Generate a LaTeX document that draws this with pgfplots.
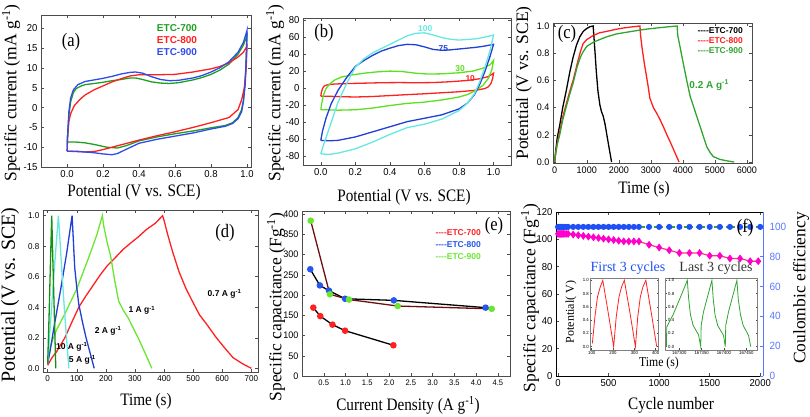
\documentclass[border=0pt]{standalone}
\usepackage{pgfplots}
\pgfplotsset{compat=1.18}
\usepackage{fontspec}
\setmainfont{Liberation Serif}
\setsansfont{Liberation Sans}
\newfontfamily\labfont[FakeStretch=0.87]{Liberation Serif}
\newfontfamily\tickfont[FakeStretch=0.95]{Liberation Sans}
\definecolor{aG}{HTML}{1F9E1F}
\definecolor{aR}{HTML}{FF1F1F}
\definecolor{aB}{HTML}{2E4BEB}
\definecolor{bC}{HTML}{66E8E0}
\definecolor{bB}{HTML}{1F3FD6}
\definecolor{bG}{HTML}{5CE01F}
\definecolor{dG}{HTML}{159015}
\definecolor{eR}{HTML}{FF2020}
\definecolor{eB}{HTML}{2456F0}
\definecolor{eG}{HTML}{6AE632}
\definecolor{eM}{HTML}{6B1010}
\definecolor{fB}{HTML}{1F4FF5}
\definecolor{fG}{HTML}{2FA52F}
\definecolor{fP}{HTML}{FF00CC}
\definecolor{fL}{HTML}{FF3377}
\definecolor{fA}{HTML}{5A78FF}
\pgfplotsset{
  every axis/.append style={scale only axis, anchor=south west,
    axis line style={line width=0.6pt, black!70},
    tick style={black!70, line width=0.5pt},
    major tick length=3pt, scaled ticks=false,
    /pgf/number format/assume math mode=true,
    /pgf/number format/set thousands separator={},
  },
  dec1/.style={/pgf/number format/fixed, /pgf/number format/fixed zerofill, /pgf/number format/precision=1},
}
\newcommand{\XLf}{\labfont\fontsize{17.5}{20}\selectfont}
\newcommand{\YLf}{\rmfamily\fontsize{17.5}{20}\selectfont}
\newcommand{\PLf}{\labfont\fontsize{19}{20}\selectfont}
\newcommand{\LGf}{\sffamily\bfseries\fontsize{8.5}{9}\selectfont}
\begin{document}
\begin{tikzpicture}
\useasboundingbox (0,0) rectangle (810pt,417pt);
% ---------------- (a)
\begin{axis}[at={(41pt,250pt)}, width=210pt, height=152pt,
  xmin=-0.145, xmax=1.022, ymin=-15, ymax=23.4,
  xtick={0,0.2,0.4,0.6,0.8,1.0}, ytick={-15,-10,-5,0,5,10,15,20},
  xticklabel style={dec1}, tick label style={font=\tickfont\fontsize{10}{11}\selectfont}]
\addplot[aG, line width=1.3pt] coordinates {(0.0,-8.7) (0.005,-6) (0.01,-2) (0.02,1.5) (0.035,3.8) (0.05,4.8) (0.08,5.5) (0.1,5.8) (0.15,6.1) (0.2,6.4) (0.25,6.8) (0.3,7.1) (0.35,7.5) (0.38,7.5) (0.42,7.1) (0.47,6.5) (0.52,6.2) (0.57,6.1) (0.62,6.3) (0.7,7.0) (0.75,7.6) (0.8,8.4) (0.85,9.5) (0.9,11) (0.95,13.5) (0.98,15.8) (1.0,18.2) (0.995,12) (0.99,7) (0.98,2) (0.97,-0.5) (0.95,-2.5) (0.92,-3.8) (0.88,-4.5) (0.8,-5.1) (0.7,-5.9) (0.6,-6.6) (0.5,-7.4) (0.4,-8.4) (0.33,-9.6) (0.28,-10.2) (0.22,-10) (0.15,-9.3) (0.1,-8.9) (0.05,-8.7) (0.0,-8.7)};
\addplot[aR, line width=1.3pt] coordinates {(0.0,-11) (0.003,-7) (0.01,-3.5) (0.02,-1.5) (0.04,0.5) (0.07,2) (0.1,3.2) (0.15,4.5) (0.2,5.5) (0.25,6.5) (0.3,7.3) (0.35,8) (0.4,8.3) (0.5,8.3) (0.6,8.4) (0.7,9) (0.8,9.8) (0.85,10.4) (0.9,11.3) (0.95,12.8) (0.98,14) (1.0,15.5) (0.995,10) (0.985,5) (0.97,2) (0.95,-0.5) (0.9,-2.5) (0.8,-3.8) (0.7,-5) (0.6,-6.1) (0.5,-7.1) (0.4,-8.2) (0.3,-9.4) (0.2,-10.6) (0.15,-11.1) (0.1,-11.2) (0.05,-11) (0.0,-11)};
\addplot[aB, line width=1.3pt] coordinates {(0.0,-11) (0.004,-6) (0.01,-1) (0.02,2.5) (0.035,4.5) (0.06,5.8) (0.1,6.6) (0.15,7) (0.2,7.4) (0.25,7.9) (0.3,8.5) (0.35,8.9) (0.38,9) (0.42,8.7) (0.47,7.8) (0.52,7.1) (0.57,6.8) (0.62,6.9) (0.7,7.5) (0.75,8.1) (0.8,9) (0.85,10.1) (0.9,11.6) (0.95,14) (0.98,16.5) (1.0,19.5) (0.995,12) (0.99,6) (0.98,1.5) (0.97,-1) (0.95,-2.8) (0.92,-4) (0.88,-4.7) (0.8,-5.4) (0.7,-6.4) (0.6,-7.2) (0.5,-8) (0.4,-9) (0.33,-10.5) (0.28,-11.6) (0.25,-11.9) (0.2,-11.7) (0.15,-11.4) (0.1,-11.2) (0.05,-11.1) (0.0,-11)};
\end{axis}
% ---------------- (b)
\begin{axis}[at={(303pt,252pt)}, width=208pt, height=147pt,
  xmin=-0.103, xmax=1.101, ymin=-90, ymax=83,
  xtick={0,0.2,0.4,0.6,0.8,1.0}, ytick={-80,-60,...,80},
  xticklabel style={dec1}, tick label style={font=\tickfont\fontsize{10}{11}\selectfont}]
\addplot[eR, line width=1.3pt] coordinates {(0,-9) (0.003,-5) (0.01,0) (0.02,3) (0.04,4.5) (0.08,5.3) (0.15,5.8) (0.25,6.3) (0.35,6.8) (0.45,7) (0.55,6.8) (0.65,7) (0.75,8) (0.85,9.5) (0.92,11.5) (0.97,14) (1.0,18) (0.995,12) (0.985,6) (0.97,2) (0.95,0) (0.9,-2) (0.8,-3.8) (0.7,-5) (0.6,-6.2) (0.5,-7.2) (0.4,-8.3) (0.3,-9.4) (0.2,-10) (0.1,-9.5) (0.03,-9) (0,-9)};
\addplot[bG, line width=1.3pt] coordinates {(0,-25) (0.005,-18) (0.015,-8) (0.03,0) (0.05,5) (0.08,10) (0.12,13.5) (0.18,16) (0.25,18) (0.32,19.5) (0.4,20.5) (0.47,20) (0.55,18) (0.62,17) (0.7,17.3) (0.8,18.5) (0.88,20.5) (0.94,24) (0.98,28) (1.0,33) (0.99,22) (0.97,12) (0.94,4) (0.9,-2) (0.85,-7) (0.8,-10) (0.7,-13.5) (0.6,-16) (0.5,-17.5) (0.4,-20) (0.3,-23) (0.2,-25) (0.1,-25.5) (0.03,-25) (0,-25)};
\addplot[bB, line width=1.3pt] coordinates {(0,-61) (0.01,-50) (0.03,-35) (0.06,-18) (0.1,-2) (0.15,13) (0.2,26) (0.25,33) (0.3,39) (0.35,44) (0.4,47.5) (0.45,50.5) (0.5,52) (0.55,51.5) (0.6,49) (0.65,46) (0.7,45) (0.75,45.5) (0.8,46.5) (0.9,48.5) (0.95,50) (1.0,52) (0.98,38) (0.95,20) (0.92,5) (0.89,-7) (0.85,-17) (0.8,-24) (0.7,-31) (0.6,-35) (0.5,-39) (0.4,-45) (0.3,-51) (0.2,-57) (0.1,-61) (0.05,-61.5) (0,-61)};
\addplot[bC, line width=1.3pt] coordinates {(0,-77) (0.01,-70) (0.03,-58) (0.06,-40) (0.1,-16) (0.15,6) (0.2,25) (0.25,35) (0.3,42) (0.35,47) (0.4,52) (0.45,57) (0.5,62) (0.55,65) (0.6,65.5) (0.65,63) (0.7,60) (0.75,58) (0.8,57) (0.9,58.5) (0.95,60.5) (1.0,63) (0.98,45) (0.95,25) (0.92,8) (0.89,-6) (0.85,-17) (0.8,-26) (0.7,-36) (0.6,-42) (0.5,-46) (0.4,-54) (0.3,-63) (0.2,-71) (0.1,-76) (0.05,-77.5) (0,-77)};
\node[font=\LGf, text=bC] at (axis cs:0.604,70.2) {100};
\node[font=\LGf, text=bB] at (axis cs:0.709,46.7) {75};
\node[font=\LGf, text=bG] at (axis cs:0.807,23.2) {30};
\node[font=\LGf, text=eR] at (axis cs:0.865,11.4) {10};
\end{axis}
% ---------------- (c)
\begin{axis}[at={(553pt,254pt)}, width=199pt, height=140pt,
  xmin=-53, xmax=6157, ymin=-0.007, ymax=1.022,
  xtick={0,1000,...,6000}, ytick={0,0.2,0.4,0.6,0.8,1.0},
  yticklabel style={dec1}, tick label style={font=\tickfont\fontsize{9.5}{11}\selectfont}]
\addplot[black, line width=1.3pt] coordinates {(0,0) (30,0.08) (80,0.18) (156,0.27) (250,0.4) (365,0.53) (470,0.66) (574,0.77) (680,0.86) (782,0.92) (890,0.96) (990,0.98) (1100,0.995) (1200,1.0) (1215,0.95) (1260,0.8) (1300,0.66) (1350,0.52) (1410,0.42) (1460,0.37) (1510,0.34) (1570,0.28) (1620,0.21) (1700,0.1) (1775,0)};
\addplot[aR, line width=1.3pt] coordinates {(0,0) (30,0.07) (80,0.14) (156,0.22) (250,0.33) (365,0.43) (470,0.52) (574,0.6) (700,0.72) (800,0.81) (886,0.87) (1000,0.9) (1200,0.93) (1400,0.95) (1617,0.96) (1900,0.975) (2138,0.985) (2400,0.993) (2660,1.0) (2680,0.93) (2720,0.85) (2800,0.72) (2900,0.58) (2970,0.47) (3080,0.4) (3180,0.36) (3290,0.31) (3390,0.26) (3500,0.2) (3600,0.15) (3750,0.07) (3880,0)};
\addplot[fG, line width=1.3pt] coordinates {(0,0) (30,0.06) (80,0.13) (156,0.2) (250,0.31) (365,0.41) (470,0.5) (574,0.58) (700,0.7) (800,0.77) (886,0.81) (1000,0.85) (1200,0.88) (1400,0.9) (1617,0.92) (1900,0.94) (2138,0.95) (2400,0.96) (2660,0.97) (2900,0.978) (3180,0.985) (3500,0.993) (3820,1.0) (3840,0.93) (3900,0.86) (4000,0.74) (4120,0.6) (4230,0.48) (4330,0.41) (4440,0.33) (4540,0.26) (4650,0.18) (4750,0.11) (4850,0.07) (4950,0.04) (5150,0.02) (5350,0.01) (5600,0)};
\node[font=\sffamily\bfseries\fontsize{10}{11}\selectfont, text=fG] at (axis cs:4821,0.566) {0.2 A g\textsuperscript{-1}};
\end{axis}
% ---------------- (d)
\begin{axis}[at={(43pt,45pt)}, width=215pt, height=162pt,
  xmin=-16, xmax=723, ymin=-0.024, ymax=1.037,
  xtick={0,100,...,700}, ytick={0,0.2,0.4,0.6,0.8,1.0},
  yticklabel style={dec1}, tick label style={font=\tickfont\fontsize{8.5}{10}\selectfont}]
\addplot[eR, line width=1.3pt] coordinates {(0,0.02) (15,0.07) (31,0.11) (59,0.2) (85,0.31) (107,0.40) (130,0.47) (155,0.54) (180,0.61) (204,0.67) (230,0.72) (260,0.78) (285,0.82) (311,0.86) (340,0.91) (370,0.95) (395,1.0) (400,0.97) (412,0.88) (430,0.76) (452,0.63) (476,0.52) (500,0.43) (522,0.35) (550,0.28) (580,0.2) (610,0.13) (637,0.07) (670,0.03) (700,0.0)};
\addplot[eG, line width=1.3pt] coordinates {(0,0.03) (10,0.15) (30,0.25) (60,0.36) (100,0.52) (140,0.72) (170,0.88) (188,1.0) (193,0.93) (205,0.82) (216,0.74) (230,0.58) (244,0.44) (260,0.38) (277,0.33) (295,0.26) (311,0.2) (335,0.1) (358,0.0)};
\addplot[bB, line width=1.3pt] coordinates {(0,0.03) (10,0.13) (20,0.25) (45,0.52) (65,0.75) (84,1.0) (88,0.85) (93,0.66) (100,0.53) (107,0.42) (120,0.3) (132,0.2) (146,0.1) (160,0.0)};
\addplot[bC, line width=1.3pt] coordinates {(0,0.03) (8,0.25) (18,0.52) (28,0.78) (37,1.0) (42,0.85) (50,0.6) (60,0.32) (73,0.0)};
\addplot[dG, line width=1.3pt] coordinates {(0,0.03) (5,0.35) (10,0.72) (14,1.0) (18,0.7) (23,0.35) (28,0.0)};
\node[font=\LGf] at (axis cs:608,0.49) {0.7 A g\textsuperscript{-1}};
\node[font=\LGf] at (axis cs:324,0.38) {1 A g\textsuperscript{-1}};
\node[font=\LGf] at (axis cs:208,0.245) {2 A g\textsuperscript{-1}};
\node[font=\LGf] at (axis cs:83,0.14) {10 A g\textsuperscript{-1}};
\node[font=\LGf] at (axis cs:119,0.055) {5 A g\textsuperscript{-1}};
\end{axis}
% ---------------- (e)
\begin{axis}[at={(302pt,41pt)}, width=208pt, height=165pt,
  xmin=0, xmax=4.78, ymin=0, ymax=408,
  xtick={0.5,1.0,...,4.5}, ytick={0,50,...,400},
  xticklabel style={dec1, font=\tickfont\fontsize{8}{9}\selectfont},
  yticklabel style={font=\tickfont\fontsize{9.5}{11}\selectfont}]
\addplot[black, line width=1.3pt, mark=*, mark size=2.6pt, mark options={eB, fill=eB}] coordinates {(0.19,264) (0.41,224) (0.62,211) (0.99,191) (2.11,187) (4.22,169)};
\addplot[black, line width=1.3pt, mark=*, mark size=2.6pt, mark options={eR, fill=eR}] coordinates {(0.26,169) (0.42,148) (0.70,127) (0.99,112) (2.1,76)};
\addplot[eM, line width=1.3pt, mark=*, mark size=2.6pt, mark options={eG, fill=eG}] coordinates {(0.20,384) (0.64,202) (1.08,189) (2.2,173) (4.36,166)};
\end{axis}
% ---------------- (f)
\begin{axis}[at={(556pt,41pt)}, width=207pt, height=164pt,
  xmin=-20, xmax=2027, ymin=0, ymax=120, clip=false,
  axis y line*=left, axis x line*=box,
  xtick={0,500,...,2000}, ytick={0,20,...,120},
  axis line style={line width=0.6pt, black},
  tick label style={font=\tickfont\fontsize{10}{11}\selectfont}]
\addplot[fL, line width=1.2pt, mark=diamond*, mark size=3pt, mark options={fP, fill=fP}] coordinates {(0,104) (10,104) (20,104) (30,104) (40,104) (50,104) (60,104) (80,104) (100,104) (150,103.5) (200,103) (250,102.5) (300,102) (350,101.5) (400,101) (450,100.5) (500,100) (550,99.5) (600,99) (650,98.5) (700,98.5) (750,98.5) (800,98.5) (900,96) (1000,94) (1100,92) (1200,90) (1300,90) (1400,90) (1500,88) (1600,88) (1700,86) (1800,86) (1900,84) (1980,84)};
\end{axis}
\begin{axis}[at={(556pt,41pt)}, width=207pt, height=164pt,
  xmin=-20, xmax=2027, ymin=0, ymax=110, clip=false,
  axis y line*=right, axis x line=none,
  ytick={0,20,...,100},
  y axis line style={fA, line width=0.8pt}, ytick style={fA},
  yticklabel style={fA, xshift=3pt, font=\tickfont\fontsize{10.5}{11}\selectfont}]
\addplot[fG, dashed, line width=1.2pt, mark=*, mark size=2.4pt, mark options={solid, fB, fill=fB}] coordinates {(0,100) (10,100) (20,100) (30,100) (40,100) (50,100) (60,100) (80,100) (100,100) (150,100) (200,100) (250,100) (300,100) (350,100) (400,100) (450,100) (500,100) (550,100) (600,100) (650,100) (700,100) (750,100) (800,100) (900,100) (1000,100) (1100,100) (1200,100) (1300,100) (1400,100) (1500,100) (1600,100) (1700,100) (1800,100) (1900,100) (2000,100)};
\end{axis}
% insets
\begin{axis}[at={(590pt,67pt)}, width=68pt, height=72pt,
  xmin=92, xmax=411, ymin=-0.05, ymax=1.035,
  xtick={100,200,300,400}, ytick={0,0.2,0.4,0.6,0.8,1.0},
  axis background/.style={fill=white}, axis line style={black!50, line width=0.5pt},
  major tick length=1.5pt, yticklabel style={dec1},
  tick label style={font=\tickfont\fontsize{4.5}{5}\selectfont, inner sep=1pt}]
\addplot[eR, line width=0.8pt] coordinates {(103,0.05) (115,0.45) (127,0.75) (140,0.9) (152,1.0) (178,0.5) (203,0.0) (215,0.45) (228,0.75) (240,0.9) (253,1.0) (280,0.5) (305,0.0) (316,0.45) (328,0.75) (340,0.9) (354,1.0) (380,0.5) (405,0.0)};
\end{axis}
\begin{axis}[at={(665pt,67pt)}, width=92pt, height=72pt,
  xmin=167268, xmax=167474, ymin=-0.05, ymax=1.035,
  xtick={167300,167350,167400,167450}, xticklabels={167300,167350,167400,167450},
  ytick={0,0.2,0.4,0.6,0.8,1.0},
  axis background/.style={fill=white}, axis line style={black!50, line width=0.5pt},
  major tick length=1.5pt, yticklabel style={dec1, anchor=west, xshift=2pt},
  tick label style={font=\tickfont\fontsize{4.5}{5}\selectfont, inner sep=1pt}]
\addplot[fG, line width=0.8pt] coordinates {(167271,0.0) (167272,0.3) (167286,0.48) (167301,0.72) (167318,1.0) (167321,0.72) (167325,0.48) (167331,0.32) (167343,0.18) (167348,0.0) (167349,0.32) (167354,0.52) (167373,1.0) (167376,0.72) (167380,0.48) (167386,0.32) (167399,0.17) (167403,0.0) (167404,0.32) (167410,0.52) (167429,1.0) (167432,0.72) (167437,0.48) (167443,0.32) (167455,0.17) (167460,0.0)};
\end{axis}
% ---------- text labels
\node[font=\XLf] at (134pt,225pt) {Potential (V vs. SCE)};
\node[font=\YLf, rotate=90] at (11pt,324pt) {Specific current (mA g\textsuperscript{-1})};
\node[font=\XLf] at (404pt,220pt) {Potential (V vs. SCE)};
\node[font=\YLf, rotate=90] at (275pt,324pt) {Specific current (mA g\textsuperscript{-1})};
\node[font=\YLf, rotate=90] at (524pt,334pt) {Potential (V vs. SCE)};
\node[font=\XLf] at (644pt,228pt) {Time (s)};
\node[font=\rmfamily\fontsize{20}{22}\selectfont, rotate=90] at (10pt,122pt) {Potential (V vs. SCE)};
\node[font=\XLf] at (146pt,16pt) {Time (s)};
\node[font=\YLf, rotate=90] at (276pt,110pt) {Specific capacitance (Fg\textsuperscript{-1})};
\node[font=\XLf] at (408pt,12pt) {Current Density (A g\textsuperscript{-1})};
\node[font=\YLf, rotate=90] at (530pt,119pt) {Specific capacitance (Fg\textsuperscript{-1})};
\node[font=\YLf, rotate=90] at (801pt,129pt) {Coulombic efficiency};
\node[font=\XLf] at (671pt,12pt) {Cycle number};
% panel letters
\node[font=\PLf] at (71pt,375pt) {(a)};
\node[font=\PLf] at (324pt,384pt) {(b)};
\node[font=\PLf] at (567pt,383pt) {(c)};
\node[font=\PLf] at (225pt,184pt) {(d)};
\node[font=\PLf] at (494pt,191pt) {(e)};
\node[font=\PLf] at (745pt,189pt) {(f)};
% legends
\node[font=\sffamily\bfseries\fontsize{10}{11}\selectfont, text=aG] at (177pt,389pt) {ETC-700};
\node[font=\sffamily\bfseries\fontsize{10}{11}\selectfont, text=aR] at (177pt,377pt) {ETC-800};
\node[font=\sffamily\bfseries\fontsize{10}{11}\selectfont, text=aB] at (177pt,365pt) {ETC-900};
\node[font=\LGf, anchor=west, text=black] at (694pt,386pt) {{-}{-}{-}{-}ETC-700};
\node[font=\LGf, anchor=west, text=aR] at (694pt,376pt) {{-}{-}{-}{-}ETC-800};
\node[font=\LGf, anchor=west, text=fG] at (694pt,366pt) {{-}{-}{-}{-}ETC-900};
\node[font=\LGf, anchor=west, text=eR] at (432pt,184pt) {{-}{-}{-}{-}ETC-700};
\node[font=\LGf, anchor=west, text=eB] at (432pt,172pt) {{-}{-}{-}{-}ETC-800};
\node[font=\LGf, anchor=west, text=eG] at (432pt,160pt) {{-}{-}{-}{-}ETC-900};
% inset titles
\node[font=\rmfamily\fontsize{14}{15}\selectfont, text=fB] at (628pt,149pt) {First 3 cycles};
\node[font=\rmfamily\fontsize{14}{15}\selectfont, text=black!80] at (716pt,149pt) {Last 3 cycles};
\node[font=\labfont\fontsize{13.5}{14}\selectfont] at (659pt,54pt) {Time (s)};
\node[font=\rmfamily\fontsize{12}{13}\selectfont, rotate=90] at (571pt,105pt) {Potential( V)};
\end{tikzpicture}
\end{document}
